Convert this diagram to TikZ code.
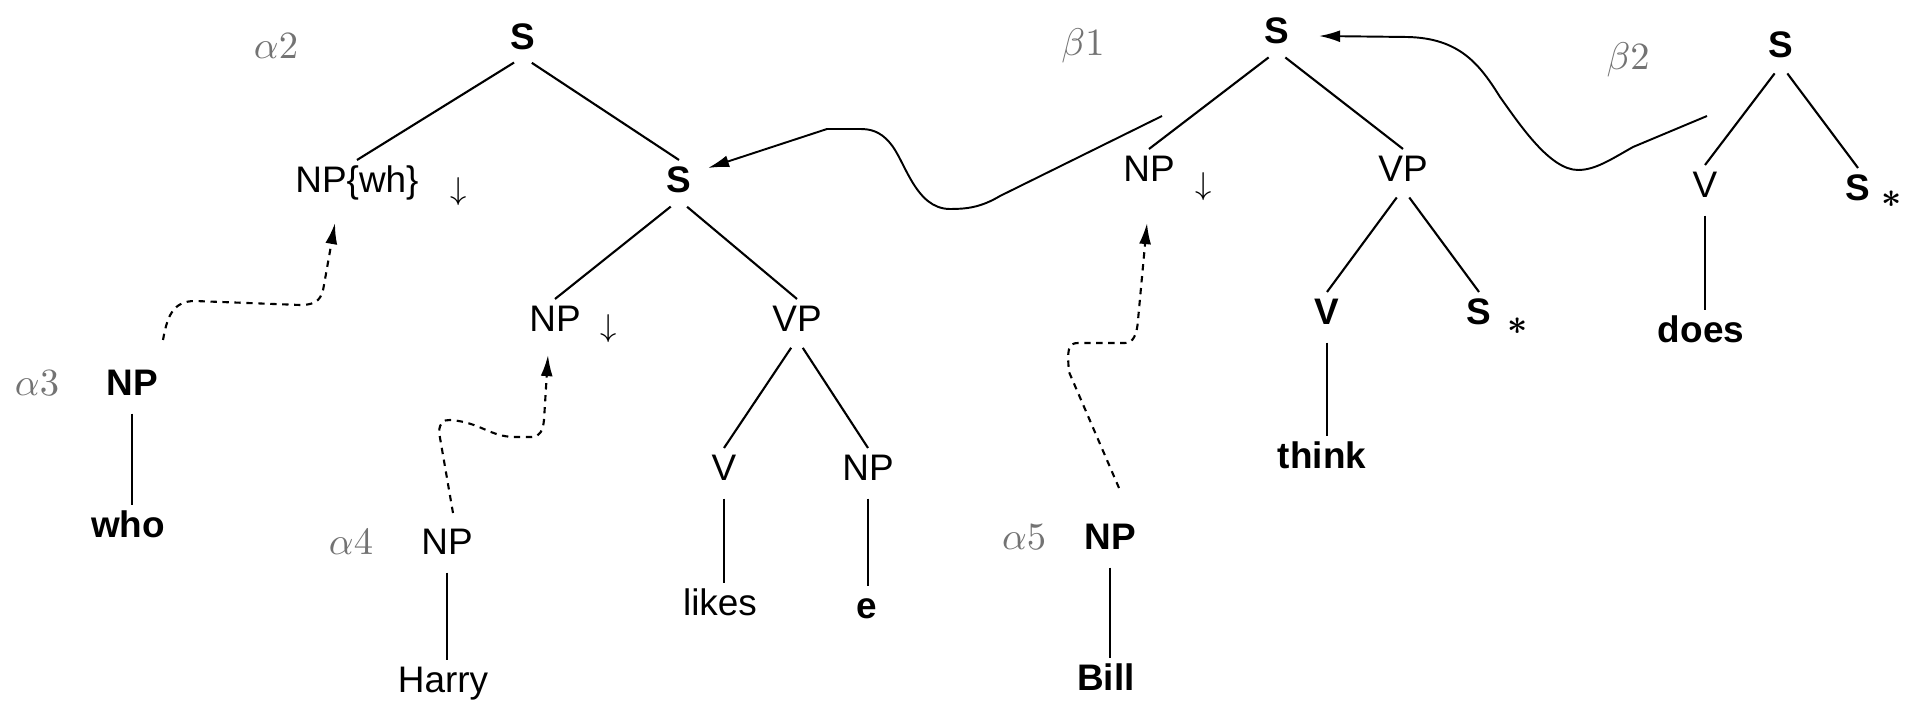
\documentclass[tikz,border=0pt]{standalone}
\usepackage{amsmath}
\usepackage{fontspec}
\setmainfont{Liberation Sans}
\usetikzlibrary{calc,arrows.meta}
\tikzset{
  cat/.style={inner sep=1pt,text height=1.5ex,text depth=.2ex,font=\fontsize{10.5}{12}\selectfont},
  catb/.style={cat,font=\fontsize{10.5}{12}\selectfont\bfseries},
  tag/.style={inner sep=1pt,text=black!55,font=\fontsize{11}{12}\selectfont},
  sym/.style={inner sep=0pt,font=\small},
  foot/.style={inner sep=0pt,font=\normalsize\boldmath},
  br/.style={line width=.6pt,shorten <=3pt},
  lex/.style={line width=.45pt,shorten <=3pt},
  subst/.style={line width=.6pt,dash pattern=on 1.8pt off 1.6pt,-{Latex[length=6pt,width=3.4pt]}},
  adj/.style={line width=.55pt,-{Latex[length=6pt,width=3.4pt]}}
}
\begin{document}
\begin{tikzpicture}[x=0.01cm,y=-0.01cm]
  \fill[white] (0,0) rectangle (1910,707);
  \node[tag] (la2) at (276,46) {$\alpha2$};
  \node[catb] (s1) at (523,37) {S};
  \node[cat] (npwh) at (357,180) {NP\{wh\}};
  \node[sym] (dn1) at (459,192) {$\downarrow$};
  \node[catb] (s2) at (679,180) {S};
  \node[cat] (np2) at (555,319) {NP};
  \node[sym] (dn2) at (609,329) {$\downarrow$};
  \node[cat] (vp2) at (797,319) {VP};
  \node[cat] (v2) at (724,468) {V};
  \node[cat] (np2e) at (868,468) {NP};
  \node[cat] (likes) at (720,603) {likes};
  \node[catb] (e) at (867,606) {e};
  \draw[br] (s1.south) -- (npwh.north);
  \draw[br] (s1.south) -- (s2.north);
  \draw[br] (s2.south) -- (np2.north);
  \draw[br] (s2.south) -- (vp2.north);
  \draw[br] (vp2.south) -- (v2.north);
  \draw[br] (vp2.south) -- (np2e.north);
  \draw[lex] (v2.south) -- (v2.south |- likes.north);
  \draw[lex] (np2e.south) -- (np2e.south |- e.north);
  \node[tag] (la3) at (37,383) {$\alpha3$};
  \node[catb] (np3) at (132,383) {NP};
  \node[catb] (who) at (128,525) {who};
  \draw[lex] (np3.south) -- (np3.south |- who.north);
  \node[tag] (la4) at (351,542) {$\alpha4$};
  \node[cat] (np4) at (447,542) {NP};
  \node[cat] (harry) at (443,680) {Harry};
  \draw[lex] (np4.south) -- (np4.south |- harry.north);
  \node[tag] (la5) at (1024,537) {$\alpha5$};
  \node[catb] (np5) at (1110,537) {NP};
  \node[catb] (bill) at (1106,678) {Bill};
  \draw[lex] (np5.south) -- (np5.south |- bill.north);
  \node[tag] (lb1) at (1083,46) {$\beta1$};
  \node[catb] (sb1) at (1277,31) {S};
  \node[cat] (npb1) at (1149,169) {NP};
  \node[sym] (dn3) at (1204,187) {$\downarrow$};
  \node[cat] (vpb1) at (1403,169) {VP};
  \node[catb] (vb1) at (1327,312) {V};
  \node[catb] (sfb1) at (1479,312) {S};
  \node[foot] (st1) at (1518,326) {$\ast$};
  \node[catb] (think) at (1322,456) {think};
  \draw[br] (sb1.south) -- (npb1.north);
  \draw[br] (sb1.south) -- (vpb1.north);
  \draw[br] (vpb1.south) -- (vb1.north);
  \draw[br] (vpb1.south) -- (sfb1.north);
  \draw[lex] (vb1.south) -- (vb1.south |- think.north);
  \node[tag] (lb2) at (1628,60) {$\beta2$};
  \node[catb] (sb2) at (1781,45) {S};
  \node[cat] (vb2) at (1705,185) {V};
  \node[catb] (sfb2) at (1858,188) {S};
  \node[foot] (st2) at (1892,199) {$\ast$};
  \node[catb] (does) at (1701,330) {does};
  \draw[br] (sb2.south) -- (vb2.north);
  \draw[br] (sb2.south) -- (sfb2.north);
  \draw[lex] (vb2.south) -- (vb2.south |- does.north);
  \draw[subst] ($(np3)+(31,-43)$) .. controls (167,318) and (172,301) .. (195,301) -- (300,305) .. controls (318,305) and (322,298) .. (324,285) -- ($(npwh)+(-22,43)$);
  \draw[subst] ($(np4)+(6,-29)$) -- (439,432) .. controls (440,422) and (443,420) .. (450,420) .. controls (480,422) and (490,437) .. (515,437) -- (532,437) .. controls (540,437) and (543,430) .. (544,420) -- ($(np2)+(-7,36)$);
  \draw[subst] ($(np5)+(9,-49)$) -- (1069,372) .. controls (1067,350) and (1068,343) .. (1078,343) -- (1125,343) .. controls (1133,343) and (1137,335) .. (1138,320) -- ($(npb1)+(-2,54)$);
  \draw[adj] ($(sb1)+(-115,85)$) -- (1000,196) .. controls (980,208) and (965,209) .. (950,209) .. controls (915,209) and (905,160) .. (890,143) .. controls (880,131) and (870,129) .. (860,129) -- (827,129) -- ($(s2)+(29,-12)$);
  \draw[adj] ($(sb2)+(-74,71)$) -- (1633,147) .. controls (1610,160) and (1595,170) .. (1578,170) .. controls (1550,170) and (1520,125) .. (1500,97) .. controls (1480,65) and (1460,38) .. (1407,37) -- ($(sb1)+(42,5)$);
\end{tikzpicture}
\end{document}
